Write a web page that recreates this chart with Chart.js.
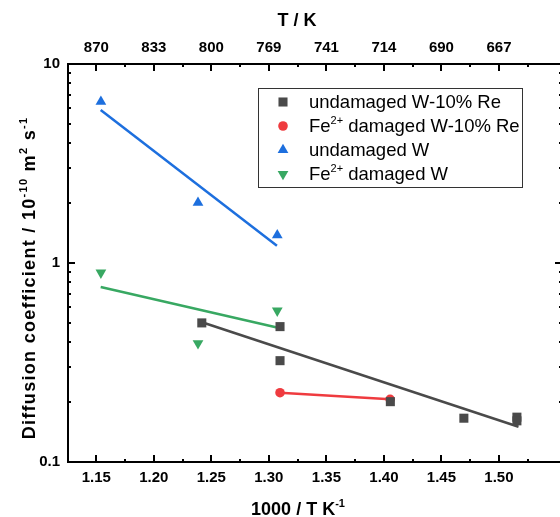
<!DOCTYPE html>
<html>
<head>
<meta charset="utf-8">
<script src="https://cdn.jsdelivr.net/npm/chart.js@4.4.1/dist/chart.umd.min.js"></script>
<style>
  html, body { margin: 0; padding: 0; background: #fff; overflow: hidden; }
  #wrap { width: 562px; height: 517px; position: relative; }
</style>
</head>
<body>
<div id="wrap"><canvas id="chart"></canvas></div>
<script>
// axis ticks
const xTicks = [1.15, 1.20, 1.25, 1.30, 1.35, 1.40, 1.45, 1.50];
const xTickLabels = ['1.15', '1.20', '1.25', '1.30', '1.35', '1.40', '1.45', '1.50'];
const tempTickLabels = ['870', '833', '800', '769', '741', '714', '690', '667'];
const yMajorTicks = [0.1, 1, 10];
const yTickLabels = ['0.1', '1', '10'];
const xMin = 1.1254, xMax = 1.5548;

// measured diffusion coefficients (1000/T, D)
const wReX = [1.2417, 1.3097, 1.3097, 1.4056, 1.4695, 1.5156, 1.5156];
const wReY = [0.500, 0.479, 0.323, 0.201, 0.166, 0.168, 0.161];
const wReDmgX = [1.3097, 1.4054];
const wReDmgY = [0.223, 0.2065];
const wX = [1.1540, 1.2384, 1.3073];
const wY = [6.47, 2.01, 1.38];
const wDmgX = [1.1540, 1.2384, 1.3073];
const wDmgY = [0.894, 0.395, 0.576];

// Arrhenius fit lines (end points)
const fitWReX = [1.2445, 1.5170];
const fitWReY = [0.498, 0.1504];
const fitWX = [1.1538, 1.3070];
const fitWY = [5.87, 1.22];
const fitWDmgX = [1.1538, 1.3080];
const fitWDmgY = [0.758, 0.473];

const GRAY = '#4a4a4a', RED = '#ef3b3f', BLUE = '#1d6fde', GREEN = '#38a862';
const FONT = '"Liberation Sans", Arial, sans-serif';

const pts = (xs, ys) => xs.map((x, i) => ({ x: x, y: ys[i] }));

function richParts(str) {
  const parts = [];
  const re = /\^\{([^}]*)\}/g;
  let last = 0, m;
  while ((m = re.exec(str))) {
    if (m.index > last) parts.push({ t: str.slice(last, m.index), sup: false });
    parts.push({ t: m[1], sup: true });
    last = re.lastIndex;
  }
  if (last < str.length) parts.push({ t: str.slice(last), sup: false });
  return parts;
}

// text with ^{...} superscripts, alphabetic baseline at y
function drawRich(ctx, str, x, y, size, weight, align) {
  const parts = richParts(str);
  const supSize = Math.round(size * 0.62);
  const widths = parts.map(p => {
    ctx.font = weight + ' ' + (p.sup ? supSize : size) + 'px ' + FONT;
    return ctx.measureText(p.t).width;
  });
  const total = widths.reduce((a, b) => a + b, 0);
  let cx = align === 'center' ? x - total / 2 : (align === 'right' ? x - total : x);
  ctx.textAlign = 'left';
  ctx.textBaseline = 'alphabetic';
  parts.forEach((p, i) => {
    ctx.font = weight + ' ' + (p.sup ? supSize : size) + 'px ' + FONT;
    ctx.fillText(p.t, cx, p.sup ? y - size * 0.42 : y);
    cx += widths[i];
  });
}

const framePlugin = {
  id: 'frame',
  afterDraw(chart) {
    const ctx = chart.ctx;
    const a = chart.chartArea;
    const xs = chart.scales.x, ys = chart.scales.y;
    ctx.save();
    ctx.strokeStyle = '#000';
    ctx.lineWidth = 2;
    ctx.strokeRect(a.left, a.top, a.right - a.left, a.bottom - a.top);

    ctx.beginPath();
    // bottom / top ticks, pointing inwards, minor ones halfway
    xTicks.forEach((v, i) => {
      const px = Math.round(xs.getPixelForValue(v));
      ctx.moveTo(px, a.bottom); ctx.lineTo(px, a.bottom - 7);
      ctx.moveTo(px, a.top); ctx.lineTo(px, a.top + 7);
      const mid = i < xTicks.length - 1 ? (v + xTicks[i + 1]) / 2 : v + 0.025;
      const pm = Math.round(xs.getPixelForValue(mid));
      if (pm < a.right) {
        ctx.moveTo(pm, a.bottom); ctx.lineTo(pm, a.bottom - 3);
        ctx.moveTo(pm, a.top); ctx.lineTo(pm, a.top + 3);
      }
    });
    // left / right ticks on the log axis
    ys.ticks.forEach(t => {
      const py = Math.round(ys.getPixelForValue(t.value));
      const len = yMajorTicks.includes(t.value) ? 7 : 3;
      ctx.moveTo(a.left, py); ctx.lineTo(a.left + len, py);
      ctx.moveTo(a.right, py); ctx.lineTo(a.right - len, py);
    });
    ctx.stroke();

    // axis titles
    ctx.fillStyle = '#000';
    drawRich(ctx, 'T / K', 297, 26, 18, 'bold', 'center');
    drawRich(ctx, '1000 / T K^{-1}', 298, 515, 18, 'bold', 'center');
    ctx.translate(35, 278);
    ctx.rotate(-Math.PI / 2);
    ctx.letterSpacing = '1.3px';
    drawRich(ctx, 'Diffusion coefficient / 10^{-10} m^{2} s^{-1}', 0, 0, 18, 'bold', 'center');
    ctx.restore();

    // legend
    const lx = a.left + 190, ly = a.top + 24;
    ctx.save();
    ctx.fillStyle = '#fff';
    ctx.fillRect(lx, ly, 264, 99);
    ctx.strokeStyle = '#333';
    ctx.lineWidth = 1;
    ctx.strokeRect(lx + 0.5, ly + 0.5, 264, 99);
    chart.data.datasets.filter(d => d.inLegend).forEach((d, i) => {
      const y = ly + 14 + i * 24;
      ctx.fillStyle = d.backgroundColor;
      Chart.helpers.drawPoint(ctx, {
        pointStyle: d.pointStyle, radius: d.pointRadius,
        rotation: d.pointRotation || 0, borderWidth: 0
      }, lx + 25, y);
      ctx.fillStyle = '#000';
      drawRich(ctx, d.label, lx + 51, y + 6, 18.5, 'normal', 'left');
    });
    ctx.restore();
  }
};

const markerSet = (label, data, color, style, radius, rotation) => ({
  label: label, data: data, inLegend: true,
  pointStyle: style, pointRadius: radius, pointHoverRadius: radius,
  pointRotation: rotation || 0,
  backgroundColor: color, borderColor: color, pointBorderWidth: 0,
  showLine: false, order: 1
});
const fitSet = (data, color) => ({
  label: '', data: data, inLegend: false,
  borderColor: color, backgroundColor: color, borderWidth: 2.5,
  pointRadius: 0, showLine: true, order: 2
});

const redSet = markerSet('Fe^{2+} damaged W-10% Re', pts(wReDmgX, wReDmgY), RED, 'circle', 4.8);
redSet.showLine = true;
redSet.borderWidth = 2.5;

const data = {
  datasets: [
    markerSet('undamaged W-10% Re', pts(wReX, wReY), GRAY, 'rect', 6.4),
    redSet,
    markerSet('undamaged W', pts(wX, wY), BLUE, 'triangle', 6.2),
    markerSet('Fe^{2+} damaged W', pts(wDmgX, wDmgY), GREEN, 'triangle', 6.2, 180),
    fitSet(pts(fitWReX, fitWReY), GRAY),
    fitSet(pts(fitWX, fitWY), BLUE),
    fitSet(pts(fitWDmgX, fitWDmgY), GREEN)
  ]
};

const tickFont = { family: FONT, size: 15, weight: 'bold' };
const noGrid = { display: true, drawOnChartArea: false, drawTicks: false };

// fixed axis sizes, no extra room for overhanging labels
const fixH = h => s => { s.height = h; s.paddingLeft = 0; s.paddingRight = 0; };

const config = {
  type: 'scatter',
  data: data,
  options: {
    responsive: true,
    maintainAspectRatio: false,
    animation: false,
    layout: { padding: 0, autoPadding: false },
    plugins: { legend: { display: false }, tooltip: { enabled: false } },
    scales: {
      x: {
        type: 'linear', position: 'bottom', min: xMin, max: xMax,
        afterBuildTicks: s => { s.ticks = xTicks.map(v => ({ value: v })); },
        afterFit: fixH(55),
        grid: noGrid, border: { display: false },
        ticks: {
          font: tickFont, color: '#000', padding: 7, maxRotation: 0, autoSkip: false,
          callback: (v, i) => xTickLabels[i]
        }
      },
      x2: {
        type: 'linear', position: 'top', min: xMin, max: xMax,
        afterBuildTicks: s => { s.ticks = xTicks.map(v => ({ value: v })); },
        afterFit: fixH(64),
        grid: noGrid, border: { display: false },
        ticks: {
          font: tickFont, color: '#000', padding: 7, maxRotation: 0, autoSkip: false,
          callback: (v, i) => tempTickLabels[i]
        }
      },
      y: {
        type: 'logarithmic', position: 'left', min: 0.1, max: 10,
        afterBuildTicks: s => {
          const t = [];
          yMajorTicks.forEach((d, k) => {
            if (k === yMajorTicks.length - 1) { t.push({ value: d }); return; }
            for (let m = 1; m < 10; m++) t.push({ value: +(m * d).toPrecision(3) });
          });
          s.ticks = t;
        },
        afterFit: s => { s.width = 68; s.paddingTop = 0; s.paddingBottom = 0; },
        grid: noGrid, border: { display: false },
        ticks: {
          font: tickFont, color: '#000', padding: 8, autoSkip: false,
          callback: v => {
            const k = yMajorTicks.indexOf(v);
            return k >= 0 ? yTickLabels[k] : '';
          }
        }
      }
    }
  },
  plugins: [framePlugin]
};

new Chart(document.getElementById('chart'), config);
</script>
</body>
</html>
